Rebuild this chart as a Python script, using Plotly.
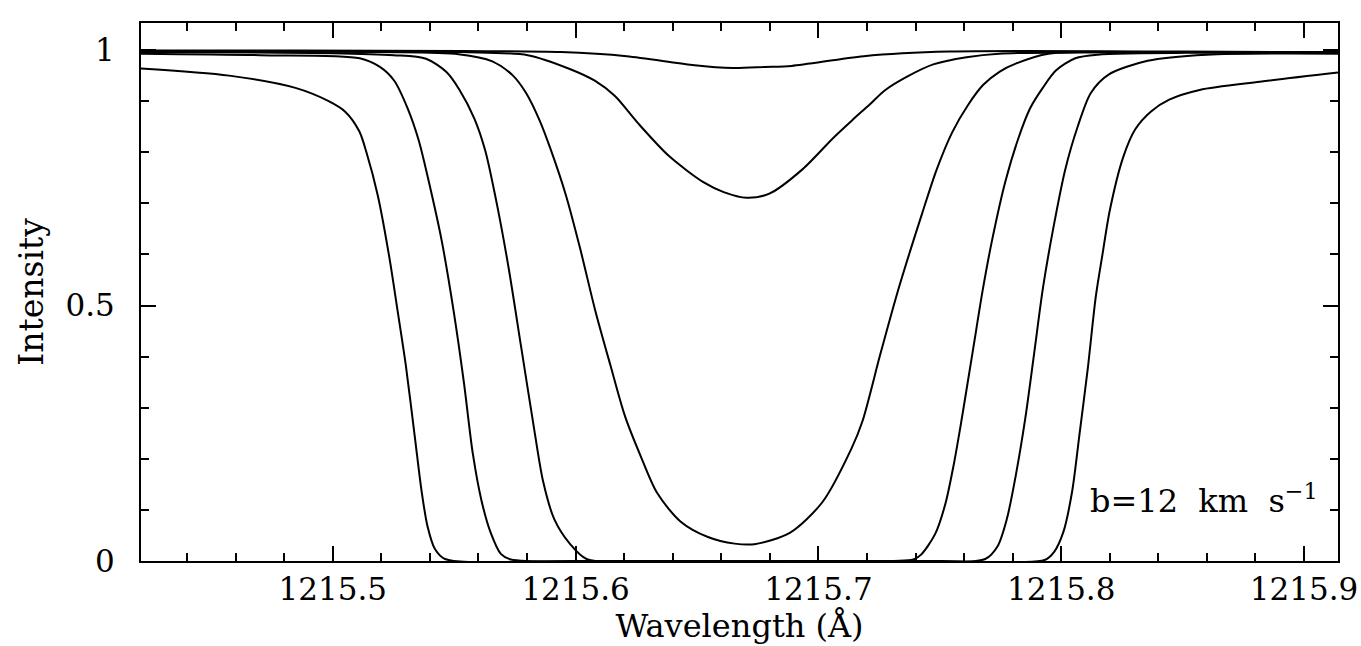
import plotly.graph_objects as go

# Wavelength (Angstrom) / Intensity readings for six absorption profiles (b = 12 km/s)
A_x = [1215.421, 1215.4854, 1215.5534, 1215.594, 1215.621, 1215.648, 1215.6647, 1215.678,
       1215.689, 1215.7187, 1215.754, 1215.85, 1215.914]
A_y = [0.999, 0.999, 0.998, 0.996, 0.988, 0.971, 0.965, 0.967, 0.969, 0.988, 0.997, 0.997, 0.996]

B_x = [1215.421, 1215.4854, 1215.5534, 1215.5803, 1215.5976, 1215.6079, 1215.6162, 1215.6255,
       1215.6386, 1215.6528, 1215.661, 1215.6704, 1215.6798, 1215.6933, 1215.7063, 1215.7142,
       1215.721, 1215.7273, 1215.7369, 1215.7473, 1215.761, 1215.7744, 1215.85, 1215.914]
B_y = [0.998, 0.998, 0.996, 0.990, 0.963, 0.940, 0.910, 0.858, 0.792, 0.741, 0.722, 0.711,
       0.719, 0.766, 0.829, 0.864, 0.893, 0.921, 0.949, 0.972, 0.986, 0.993, 0.996, 0.996]

C_x = [1215.421, 1215.52, 1215.5518, 1215.5657, 1215.574, 1215.5796, 1215.5852, 1215.5897,
       1215.596, 1215.6019, 1215.608, 1215.6144, 1215.6203, 1215.627, 1215.6336, 1215.6433,
       1215.6545, 1215.6655, 1215.6737, 1215.6882, 1215.7016, 1215.7136, 1215.7181, 1215.7254,
       1215.7327, 1215.7376, 1215.7427, 1215.7487, 1215.7551, 1215.7617, 1215.7679, 1215.7747,
       1215.7815, 1215.7948, 1215.85, 1215.914]
C_y = [0.997, 0.996, 0.992, 0.978, 0.951, 0.916, 0.862, 0.806, 0.716, 0.611, 0.492, 0.382,
       0.284, 0.203, 0.133, 0.077, 0.047, 0.034, 0.033, 0.055, 0.115, 0.220, 0.273, 0.403,
       0.528, 0.604, 0.680, 0.766, 0.839, 0.893, 0.932, 0.958, 0.974, 0.993, 0.996, 0.995]

D_x = [1215.421, 1215.50, 1215.525, 1215.5384, 1215.5468, 1215.5522, 1215.5583, 1215.5628,
       1215.5676, 1215.5724, 1215.5775, 1215.5826, 1215.5866, 1215.5912, 1215.5976, 1215.6047,
       1215.64, 1215.70, 1215.7391, 1215.7424, 1215.7481, 1215.7523, 1215.7558, 1215.7585,
       1215.7612, 1215.7639, 1215.7677, 1215.7717, 1215.777, 1215.7824, 1215.7873, 1215.7924,
       1215.7978, 1215.8058, 1215.815, 1215.86, 1215.914]
D_y = [0.996, 0.994, 0.990, 0.983, 0.957, 0.922, 0.866, 0.803, 0.698, 0.574, 0.421, 0.268,
       0.156, 0.082, 0.034, 0.0035, 0.0, 0.0, 0.003, 0.013, 0.053, 0.112, 0.190, 0.263, 0.341,
       0.420, 0.531, 0.632, 0.743, 0.828, 0.887, 0.926, 0.960, 0.984, 0.991, 0.995, 0.995]

E_x = [1215.421, 1215.47, 1215.5111, 1215.5194, 1215.5253, 1215.5309, 1215.5354, 1215.5401,
       1215.5448, 1215.5498, 1215.554, 1215.5577, 1215.5612, 1215.5649, 1215.5692, 1215.5733,
       1215.62, 1215.72, 1215.7687, 1215.7738, 1215.7776, 1215.7815, 1215.7852, 1215.7889,
       1215.7925, 1215.7968, 1215.8016, 1215.8067, 1215.8122, 1215.8195, 1215.8356, 1215.8599,
       1215.914]
E_y = [0.993, 0.990, 0.984, 0.967, 0.940, 0.885, 0.823, 0.731, 0.628, 0.488, 0.349, 0.209,
       0.119, 0.057, 0.014, 0.003, 0.0, 0.0, 0.004, 0.029, 0.082, 0.173, 0.279, 0.408, 0.535,
       0.653, 0.765, 0.849, 0.916, 0.952, 0.979, 0.991, 0.993]

F_x = [1215.421, 1215.4573, 1215.4846, 1215.4983, 1215.5052, 1215.5109, 1215.5139, 1215.5185,
       1215.5234, 1215.5268, 1215.5301, 1215.5338, 1215.5365, 1215.539, 1215.542, 1215.5462,
       1215.60, 1215.75, 1215.7932, 1215.7971, 1215.8009, 1215.8045, 1215.8075, 1215.811,
       1215.8142, 1215.817, 1215.820, 1215.8255, 1215.8305, 1215.837, 1215.8445, 1215.857,
       1215.8818, 1215.914]
F_y = [0.964, 0.950, 0.926, 0.900, 0.879, 0.841, 0.799, 0.716, 0.591, 0.486, 0.382, 0.242,
       0.139, 0.068, 0.024, 0.004, 0.0, 0.0, 0.002, 0.018, 0.057, 0.136, 0.247, 0.379, 0.516,
       0.600, 0.686, 0.790, 0.845, 0.880, 0.903, 0.922, 0.938, 0.956]

x_tickvals = [1215.5, 1215.6, 1215.7, 1215.8, 1215.9]
x_ticktext = ["1215.5", "1215.6", "1215.7", "1215.8", "1215.9"]
y_tickvals = [0, 0.5, 1]
y_ticktext = ["0", "0.5", "1"]

FONT = "DejaVu Serif"

fig = go.Figure()
for xs, ys in [(A_x, A_y), (B_x, B_y), (C_x, C_y), (D_x, D_y), (E_x, E_y), (F_x, F_y)]:
    fig.add_trace(go.Scatter(x=xs, y=ys, mode="lines",
                             line=dict(color="black", width=2, shape="spline", smoothing=0.8),
                             showlegend=False, hoverinfo="skip"))

fig.update_layout(
    width=1361, height=646,
    margin=dict(l=141, r=23, t=23, b=85),
    paper_bgcolor="white", plot_bgcolor="white",
    font=dict(family=FONT, size=32, color="black"),
    xaxis=dict(range=[1215.421, 1215.914], tickmode="array", tickvals=x_tickvals,
               ticktext=x_ticktext, ticks="inside", ticklen=15, tickwidth=2,
               tickcolor="black", showline=True, linecolor="black", linewidth=2,
               mirror="ticks", showgrid=False, zeroline=False, automargin=False,
               ticklabelstandoff=0, ticklabeloverflow="allow",
               tickfont=dict(family=FONT, size=31),
               minor=dict(dtick=0.02, tick0=1215.5, ticks="inside", ticklen=8,
                          tickwidth=1.5, tickcolor="black", showgrid=False),
               title=dict(text="Wavelength (Å)", standoff=2,
                          font=dict(family=FONT, size=32))),
    yaxis=dict(range=[0, 1.053], tickmode="array", tickvals=y_tickvals,
               ticktext=y_ticktext, ticks="inside", ticklen=15, tickwidth=2,
               tickcolor="black", showline=True, linecolor="black", linewidth=2,
               mirror="ticks", showgrid=False, zeroline=False, automargin=False,
               ticklabelstandoff=18, ticklabeloverflow="allow",
               tickfont=dict(family=FONT, size=31),
               minor=dict(dtick=0.1, tick0=0, ticks="inside", ticklen=8,
                          tickwidth=1.5, tickcolor="black", showgrid=False),
               title=dict(text="Intensity", standoff=12,
                          font=dict(family=FONT, size=33))),
    annotations=[dict(text="b=12\u00a0 km\u00a0 s<sup>−1</sup>", xref="paper", yref="paper",
                      x=0.985, y=0.115, xanchor="right", yanchor="middle",
                      showarrow=False, font=dict(family=FONT, size=32, color="black"))],
)

fig.write_html("out.html")
